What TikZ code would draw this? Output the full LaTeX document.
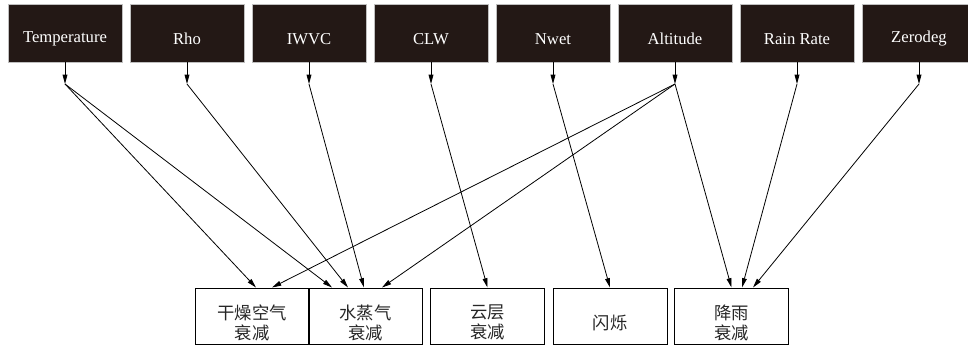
\documentclass[tikz,border=0pt]{standalone}
\usepackage{fontspec}
\setmainfont{Liberation Serif}
\newfontfamily\cjk{Noto Sans CJK SC}
\usetikzlibrary{arrows.meta,calc}
\definecolor{boxdark}{HTML}{231815}
\tikzset{
  topbox/.style={rectangle, fill=boxdark, draw=gray!50, line width=0.4pt, minimum width=85.5pt, minimum height=43.5pt, inner sep=0pt},
  toplabel/.style={yshift=-4.5pt, text=white, font=\fontsize{12.5}{14}\selectfont},
  botbox/.style={rectangle, draw=black, line width=0.75pt, minimum width=85pt, minimum height=42pt, inner sep=0pt},
  botlabel/.style={align=center, yshift=-5pt, font=\cjk\fontsize{13}{15}\selectfont, text=black!85},
  conn/.style={line width=0.6pt, -{Triangle[length=7pt,width=3.6pt]}}
}
\begin{document}
\begin{tikzpicture}[x=0.75pt,y=-0.75pt]
\useasboundingbox (0,0) rectangle (968,346);
% top boxes
\node[topbox, label={[toplabel]center:Temperature}] (t1) at (65,33) {};
\node[topbox, label={[toplabel]center:Rho}] (t2) at (187,33) {};
\node[topbox, label={[toplabel]center:IWVC}] (t3) at (309,33) {};
\node[topbox, label={[toplabel]center:CLW}] (t4) at (431,33) {};
\node[topbox, label={[toplabel]center:Nwet}] (t5) at (553,33) {};
\node[topbox, label={[toplabel]center:Altitude}] (t6) at (675,33) {};
\node[topbox, label={[toplabel]center:Rain Rate}] (t7) at (797,33) {};
\node[topbox, label={[toplabel]center:Zerodeg}] (t8) at (919,33) {};
% junctions
\foreach \i/\x in {1/65,2/187,3/309,4/431,5/553,6/675,7/797,8/919}{
  \coordinate (j\i) at (\x,84);
  \draw[conn] (t\i.south) -- (j\i);
}
% bottom boxes
\node[botbox, minimum width=85.5pt, label={[botlabel]center:{干燥空气\\衰减}}] (d1) at (252,316) {};
\node[botbox, label={[botlabel]center:{水蒸气\\衰减}}] (d2) at (365.5,316) {};
\node[botbox, label={[botlabel]center:{云层\\衰减}}] (d3) at (487.5,316) {};
\node[botbox, minimum width=85.5pt, label={[botlabel]center:{闪烁}}] (d4) at (610,316) {};
\node[botbox, label={[botlabel]center:{降雨\\衰减}}] (d5) at (731.5,316) {};
% connectors
\draw[conn] (j1) -- ($(d1.north)+(4,0)$);
\draw[conn] (j6) -- ($(d1.north)+(20,0)$);
\draw[conn] (j1) -- ($(d2.north)+(-33.5,0)$);
\draw[conn] (j2) -- ($(d2.north)+(-17.5,0)$);
\draw[conn] (j3) -- ($(d2.north)+(-1.5,0)$);
\draw[conn] (j6) -- ($(d2.north)+(16.5,0)$);
\draw[conn] (j4) -- (d3.north);
\draw[conn] (j5) -- (d4.north);
\draw[conn] (j6) -- (d5.north);
\draw[conn] (j7) -- ($(d5.north)+(10.5,0)$);
\draw[conn] (j8) -- ($(d5.north)+(21.5,0)$);
\end{tikzpicture}
\end{document}
